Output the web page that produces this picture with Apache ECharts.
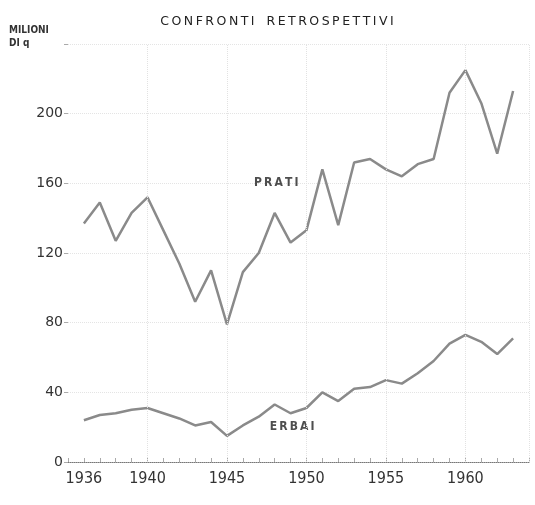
<!DOCTYPE html>
<html>
<head>
<meta charset="utf-8">
<script src="https://cdn.jsdelivr.net/npm/echarts@6/dist/echarts.min.js"></script>
<style>
  html, body { margin: 0; padding: 0; background: #fff; }
  #main { width: 535px; height: 505px; }
</style>
</head>
<body>
<div id="main"></div>
<script>
// anni e valori (milioni di quintali)
const years = [1936, 1937, 1938, 1939, 1940, 1941, 1942, 1943, 1944, 1945,
  1946, 1947, 1948, 1949, 1950, 1951, 1952, 1953, 1954, 1955,
  1956, 1957, 1958, 1959, 1960, 1961, 1962, 1963]
const prati = [137, 149, 127, 143, 152, 133, 114, 92, 110, 79,
  109, 120, 143, 126, 133, 168, 136, 172, 174, 168,
  164, 171, 174, 212, 225, 206, 177, 213]
const erbai = [24, 27, 28, 30, 31, 28, 25, 21, 23, 15,
  21, 26, 33, 28, 31, 40, 35, 42, 43, 47,
  45, 51, 58, 68, 73, 69, 62, 71]
const yTicks = [0, 40, 80, 120, 160, 200]
const xTicks = [1936, 1940, 1945, 1950, 1955, 1960]
const xGrid = [1940, 1945, 1950, 1955, 1960, 1964]

// spazia le lettere come nella stampa
const spaced = s => s.split('').join('\u2009')

const chart = echarts.init(document.getElementById('main'))

const lineStyle = { color: '#8a8a8a', width: 2.5 }

const option = {
  animation: false,
  backgroundColor: '#fff',
  textStyle: { fontFamily: 'DejaVu Sans' },
  title: {
    text: spaced('CONFRONTI') + '   ' + spaced('RETROSPETTIVI'),
    left: 272,
    top: 10,
    textAlign: 'center',
    textStyle: { fontSize: 12.5, fontWeight: 'normal', color: '#222', fontFamily: 'DejaVu Sans' },
  },
  graphic: [
    { type: 'text', left: 9, top: 25, style: { text: 'MILIONI', fontSize: 10, fontWeight: 'bold', fill: '#333', fontFamily: 'DejaVu Sans Condensed' } },
    { type: 'text', left: 9, top: 38, style: { text: 'DI q', fontSize: 10, fontWeight: 'bold', fill: '#333', fontFamily: 'DejaVu Sans Condensed' } },
  ],
  grid: { left: 68, right: 6, top: 44, bottom: 43 },
  xAxis: {
    type: 'value',
    min: 1935,
    max: 1964,
    interval: 1,
    axisLine: { show: true, lineStyle: { color: '#777', type: 'dotted' } },
    axisTick: { show: true, length: 4, inside: true, lineStyle: { color: '#aaa' } },
    axisLabel: {
      color: '#333',
      fontSize: 16,
      margin: 9,
      fontFamily: 'DejaVu Sans Condensed',
      formatter: v => xTicks.includes(v) ? String(v) : '',
    },
    splitLine: { show: false },
  },
  yAxis: {
    type: 'value',
    min: 0,
    max: 240,
    interval: 40,
    axisLine: { show: false },
    axisTick: { show: true, length: 4, lineStyle: { color: '#aaa' } },
    axisLabel: {
      color: '#333',
      fontSize: 14,
      margin: 5,
      formatter: v => yTicks.includes(v) ? String(v) : '',
    },
    splitLine: { show: true, lineStyle: { color: '#e4e4e4', type: 'dotted' } },
  },
  series: [
    {
      name: 'PRATI',
      type: 'line',
      data: years.map((y, i) => [y, prati[i]]),
      symbol: 'none',
      lineStyle,
      // griglia verticale tratteggiata ogni 5 anni
      markLine: {
        silent: true,
        symbol: 'none',
        label: { show: false },
        lineStyle: { color: '#e2e2e2', type: 'dotted', width: 1 },
        data: xGrid.map(x => ({ xAxis: x })),
      },
    },
    {
      name: 'ERBAI',
      type: 'line',
      data: years.map((y, i) => [y, erbai[i]]),
      symbol: 'none',
      lineStyle,
    },
    {
      // etichette delle serie
      type: 'scatter',
      symbolSize: 0,
      silent: true,
      data: [
        { value: [1948.1, 160], label: { formatter: spaced('PRATI') } },
        { value: [1949.1, 20], label: { formatter: spaced('ERBAI') } },
      ],
      label: { show: true, position: 'inside', color: '#222', fontSize: 12, fontWeight: 'bold', fontFamily: 'DejaVu Sans Condensed' },
    },
  ],
}

chart.setOption(option)
</script>
</body>
</html>
